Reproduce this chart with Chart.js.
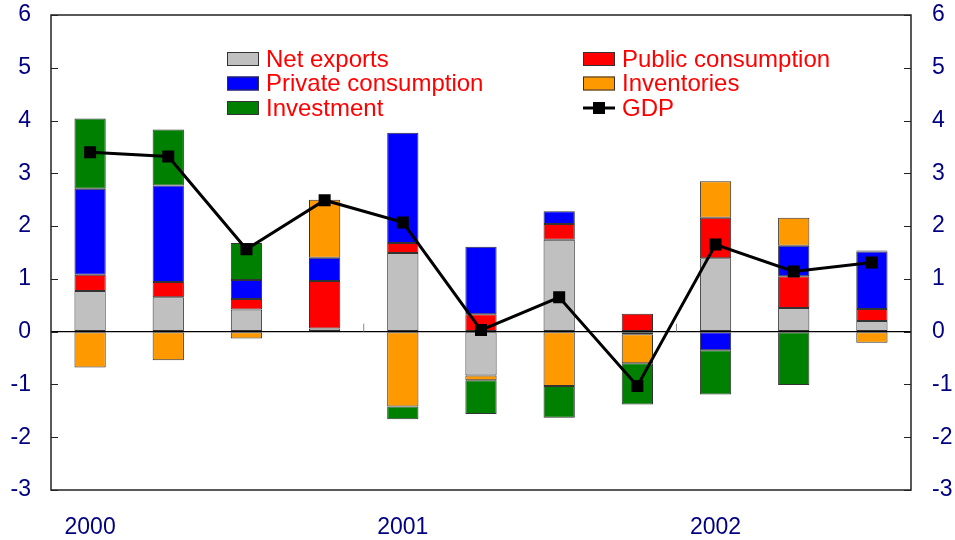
<!DOCTYPE html>
<html>
<head>
<meta charset="utf-8">
<script src="https://cdn.jsdelivr.net/npm/chart.js@4/dist/chart.umd.min.js"></script>
<style>
  html, body { margin: 0; padding: 0; background: #fff; }
  #wrap { width: 955px; height: 540px; position: relative; }
</style>
</head>
<body>
<div id="wrap"><canvas id="chart" width="955" height="540"></canvas></div>
<script>
// quarters 2000Q1 .. 2002Q3, only first quarter gets a year label
const quarterLabels = ["2000", "", "", "", "2001", "", "", "", "2002", "", ""];

const netExports  = [0.77, 0.65, 0.42, 0.06, 1.49, -0.83, 1.74, -0.05, 1.39, 0.45, 0.20];
const publicCons  = [0.31, 0.29, 0.20, 0.90, 0.19, 0.33, 0.30, 0.34, 0.77, 0.60, 0.23];
const privateCons = [1.63, 1.83, 0.36, 0.44, 2.09, 1.28, 0.24, 0.00, -0.35, 0.58, 1.09];
const inventories = [-0.68, -0.54, -0.13, 1.10, -1.42, -0.09, -1.03, -0.55, 0.69, 0.53, -0.21];
const investment  = [1.33, 1.06, 0.70, 0.00, -0.24, -0.64, -0.60, -0.78, -0.84, -1.01, 0.02];
const gdp         = [3.40, 3.32, 1.56, 2.49, 2.07, 0.03, 0.65, -1.03, 1.65, 1.14, 1.31];

const yTicksMin = -3, yTicksMax = 6;

const navy = "#000080";
const fontFam = "'Liberation Sans', Arial, sans-serif";

function barSet(label, data, color) {
  return {
    type: "bar",
    label: label,
    data: data,
    backgroundColor: color,
    borderColor: "#333",
    borderWidth: 1,
    borderSkipped: false,
    barPercentage: 0.8,
    categoryPercentage: 0.5,
    stack: "contrib",
    order: 1
  };
}

// fixed axis width, and no extra top/bottom room for the tick labels
function fitY(width) {
  return s => {
    s.width = width;
    s.paddingTop = 0;
    s.paddingBottom = 0;
  };
}

// frame, inward ticks, year markers and the two-column legend
const decorations = {
  id: "decorations",
  afterDatasetsDraw(chart) {
    const ctx = chart.ctx;
    const a = chart.chartArea;
    const x = chart.scales.x;
    const y = chart.scales.y;
    ctx.save();
    ctx.strokeStyle = "#222";
    ctx.lineWidth = 1.5;
    ctx.strokeRect(a.left, a.top, a.right - a.left, a.bottom - a.top);

    ctx.lineWidth = 1;
    y.ticks.forEach(t => {
      const py = Math.round(y.getPixelForValue(t.value)) + 0.5;
      ctx.beginPath();
      ctx.moveTo(a.left, py); ctx.lineTo(a.left + 7, py);
      ctx.moveTo(a.right - 7, py); ctx.lineTo(a.right, py);
      ctx.stroke();
    });

    const zero = y.getPixelForValue(0);
    ctx.strokeStyle = "#888";
    for (let i = 4; i < quarterLabels.length; i += 4) {
      const px = (x.getPixelForValue(i - 1) + x.getPixelForValue(i)) / 2;
      ctx.beginPath();
      ctx.moveTo(px, zero); ctx.lineTo(px, zero - 8);
      ctx.stroke();
    }

    // legend
    const cols = [227, 583];
    const rows = [59, 83.5, 108];
    ctx.font = "24px " + fontFam;
    ctx.textBaseline = "middle";
    chart.data.datasets.forEach((ds, i) => {
      const bx = cols[i % 2], by = rows[Math.floor(i / 2)];
      if (ds.type === "bar") {
        ctx.fillStyle = ds.backgroundColor;
        ctx.fillRect(bx, by - 7, 32, 14);
        ctx.strokeStyle = "#333";
        ctx.strokeRect(bx + 0.5, by - 6.5, 31, 13);
      } else {
        ctx.strokeStyle = "#000";
        ctx.lineWidth = 3;
        ctx.beginPath();
        ctx.moveTo(bx, by); ctx.lineTo(bx + 32, by);
        ctx.stroke();
        ctx.fillStyle = "#000";
        ctx.fillRect(bx + 10, by - 6, 12, 12);
        ctx.lineWidth = 1;
      }
      ctx.fillStyle = "#ff0000";
      ctx.fillText(ds.label, bx + 39, by + 1);
    });
    ctx.restore();
  }
};

new Chart(document.getElementById("chart"), {
  data: {
    labels: quarterLabels,
    datasets: [
      barSet("Net exports", netExports, "#c0c0c0"),
      barSet("Public consumption", publicCons, "#ff0000"),
      barSet("Private consumption", privateCons, "#0000ff"),
      barSet("Inventories", inventories, "#ff9900"),
      barSet("Investment", investment, "#008000"),
      {
        type: "line",
        label: "GDP",
        data: gdp,
        borderColor: "#000",
        borderWidth: 3,
        pointStyle: "rect",
        pointRadius: 8.5,
        pointHoverRadius: 8.5,
        pointBackgroundColor: "#000",
        pointBorderWidth: 0,
        tension: 0,
        stack: "gdp",
        order: 0
      }
    ]
  },
  options: {
    responsive: false,
    animation: false,
    layout: { padding: { top: 15, bottom: 0, left: 0, right: 0 } },
    plugins: {
      legend: { display: false },
      tooltip: { enabled: false }
    },
    scales: {
      x: {
        stacked: true,
        grid: { display: false, drawTicks: false },
        border: { display: false },
        ticks: {
          color: navy,
          font: { size: 23, family: fontFam },
          padding: 24,
          autoSkip: false,
          maxRotation: 0
        },
        afterFit: s => { s.height = 50; }
      },
      y: {
        stacked: true,
        position: "left",
        min: yTicksMin,
        max: yTicksMax,
        grid: {
          drawTicks: false,
          color: c => c.tick.value === 0 ? "#000" : "rgba(0,0,0,0)",
          lineWidth: 1.2
        },
        border: { display: false },
        ticks: {
          stepSize: 1,
          color: navy,
          font: { size: 23, family: fontFam },
          padding: 20
        },
        afterFit: fitY(51)
      },
      y2: {
        position: "right",
        min: yTicksMin,
        max: yTicksMax,
        grid: { display: false, drawTicks: false },
        border: { display: false },
        ticks: {
          stepSize: 1,
          color: navy,
          font: { size: 23, family: fontFam },
          padding: 21
        },
        afterFit: fitY(44)
      }
    }
  },
  plugins: [decorations]
});
</script>
</body>
</html>
